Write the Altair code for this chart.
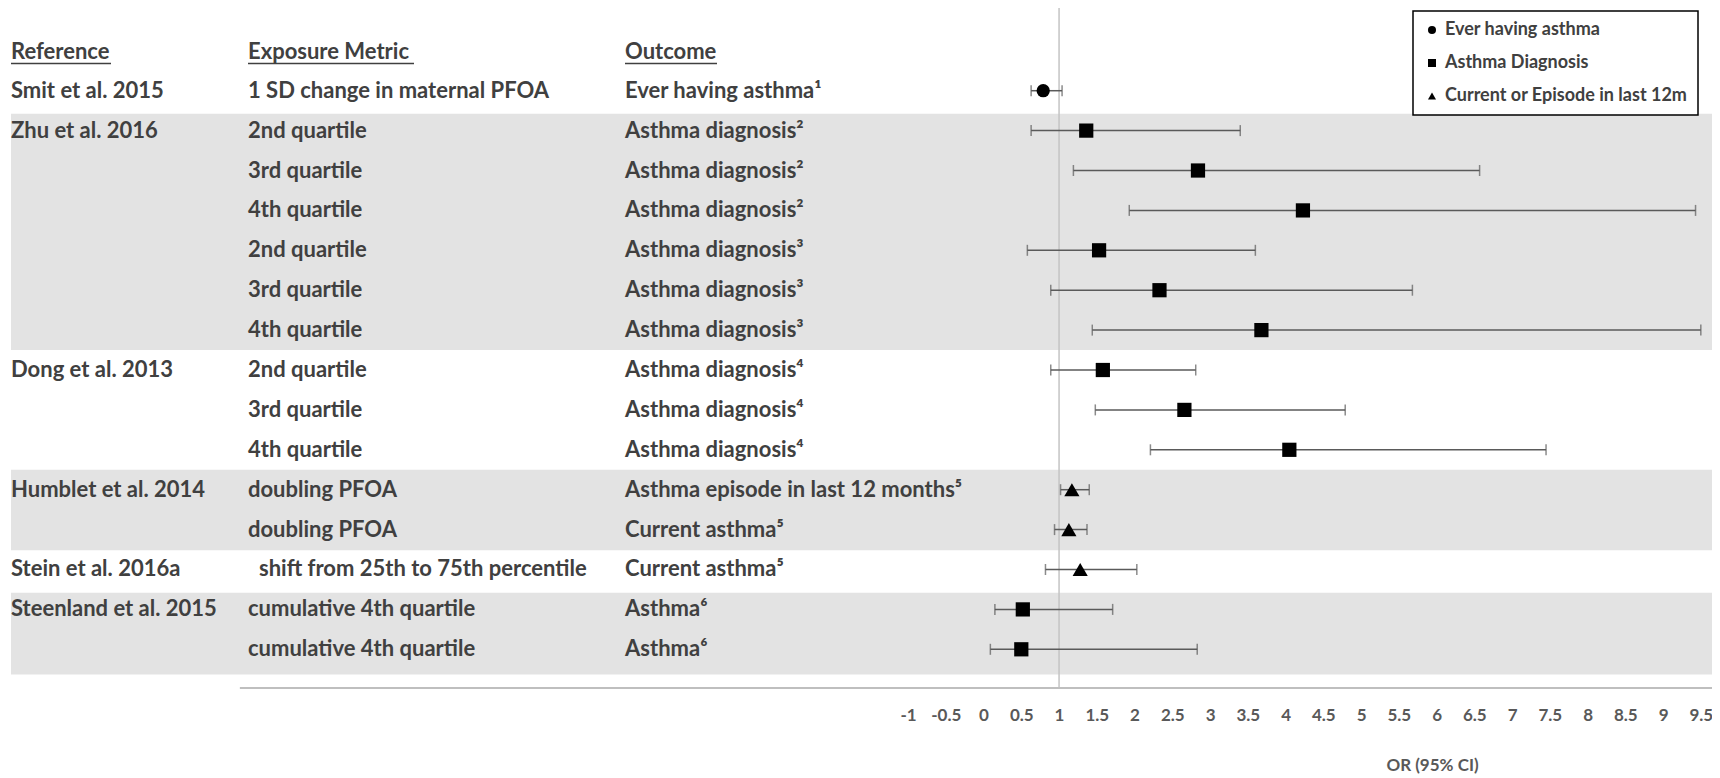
import altair as alt
import pandas as pd

# ---------------- data ----------------
references = ["Smit et al. 2015", "Zhu et al. 2016", "", "", "", "", "",
              "Dong et al. 2013", "", "", "Humblet et al. 2014", "",
              "Stein et al. 2016a", "Steenland et al. 2015", ""]
exposures = ["1 SD change in maternal PFOA", "2nd quartile", "3rd quartile", "4th quartile",
             "2nd quartile", "3rd quartile", "4th quartile",
             "2nd quartile", "3rd quartile", "4th quartile",
             "doubling PFOA", "doubling PFOA",
             "\u200b\u2002shift from 25th to 75th percentile",
             "cumulative 4th quartile", "cumulative 4th quartile"]
outcomes = ["Ever having asthma\u00b9",
            "Asthma diagnosis\u00b2", "Asthma diagnosis\u00b2", "Asthma diagnosis\u00b2",
            "Asthma diagnosis\u00b3", "Asthma diagnosis\u00b3", "Asthma diagnosis\u00b3",
            "Asthma diagnosis\u2074", "Asthma diagnosis\u2074", "Asthma diagnosis\u2074",
            "Asthma episode in last 12 months\u2075", "Current asthma\u2075", "Current asthma\u2075",
            "Asthma\u2076", "Asthma\u2076"]
outcome_types = ["Ever having asthma"] + ["Asthma Diagnosis"] * 9 + \
                ["Current or Episode in last 12m"] * 3 + ["Asthma Diagnosis"] * 2
odds_ratio = [0.79, 1.36, 2.84, 4.23, 1.53, 2.33, 3.68, 1.58, 2.66, 4.05, 1.17, 1.13, 1.28, 0.52, 0.50]
ci_low = [0.63, 0.63, 1.19, 1.93, 0.58, 0.89, 1.44, 0.89, 1.48, 2.21, 1.02, 0.94, 0.82, 0.15, 0.09]
ci_high = [1.04, 3.40, 6.57, 9.43, 3.60, 5.68, 9.50, 2.81, 4.79, 7.45, 1.40, 1.37, 2.03, 1.71, 2.83]
headers = ["Reference", "Exposure Metric", "Outcome"]
band_start = [0.58, 9.5, 12.58]
band_end = [6.5, 11.52, 14.63]
tick_values = [-1, -0.5, 0, 0.5, 1, 1.5, 2, 2.5, 3, 3.5, 4, 4.5, 5, 5.5, 6, 6.5, 7, 7.5, 8, 8.5, 9, 9.5]
type_domain = ["Ever having asthma", "Asthma Diagnosis", "Current or Episode in last 12m"]
null_value = 1

rows = list(range(len(references)))
df = pd.DataFrame({"row": rows, "ref": references, "exp": exposures, "out": outcomes,
                   "type": outcome_types, "msize": outcome_types,
                   "or": odds_ratio, "lo": ci_low, "hi": ci_high})
bands = pd.DataFrame({"y0": band_start, "y1": band_end})

# ---------------- layout / style ----------------
W, H = 1704, 680
X_DOM = [-12.921, 9.648]
Y_DOM = [-2.073, 14.97]
HEADER_ROW = -0.98
FONT = "Lato"
TXT = "#404040"
FS = 22

xs = alt.Scale(domain=X_DOM, nice=False, zero=False)
ys = alt.Scale(domain=Y_DOM, nice=False, zero=False, reverse=True)
xaxis = alt.Axis(values=tick_values, labelExpr="'' + datum.value", domain=False,
                 ticks=False, grid=False, labelPadding=19, labelFlush=False,
                 labelOverlap=False, labelFont=FONT, labelFontSize=17,
                 labelFontWeight="bold", labelColor="#595959",
                 title="OR (95% CI)", titleFont=FONT, titleFontSize=17,
                 titleFontWeight="bold", titleColor="#595959",
                 titleX=1424, titlePadding=34)

base = alt.Chart(df)

band_layer = alt.Chart(bands).mark_rect(color="#e3e3e3").encode(
    x=alt.value(3), x2=alt.value(W),
    y=alt.Y("y0:Q", scale=ys, axis=None), y2="y1:Q")

vline = alt.Chart(pd.DataFrame({"x": [null_value], "y0": [Y_DOM[0]], "y1": [Y_DOM[1]]})).mark_rule(
    color="#c4c4c4", strokeWidth=1.5).encode(
    x=alt.X("x:Q", scale=xs, axis=xaxis), y=alt.Y("y0:Q", scale=ys, axis=None), y2="y1:Q")

axis_line = alt.Chart(pd.DataFrame({"x0": [-9.85], "x1": [X_DOM[1]], "y": [Y_DOM[1]]})).mark_rule(
    color="#bfbfbf", strokeWidth=2).encode(
    x=alt.X("x0:Q", scale=xs, axis=xaxis), x2="x1:Q", y=alt.Y("y:Q", scale=ys, axis=None))

whisker = base.mark_rule(color="#5a5a5a", strokeWidth=1.5).encode(
    x=alt.X("lo:Q", scale=xs, axis=xaxis), x2="hi:Q", y=alt.Y("row:Q", scale=ys, axis=None))
cap_lo = base.mark_tick(orient="vertical", color="#5a5a5a", thickness=1.5, size=11).encode(
    x=alt.X("lo:Q", scale=xs, axis=xaxis), y=alt.Y("row:Q", scale=ys, axis=None))
cap_hi = base.mark_tick(orient="vertical", color="#5a5a5a", thickness=1.5, size=11).encode(
    x=alt.X("hi:Q", scale=xs, axis=xaxis), y=alt.Y("row:Q", scale=ys, axis=None))

points = base.mark_point(filled=True, color="black", opacity=1).encode(
    x=alt.X("or:Q", scale=xs, axis=xaxis),
    y=alt.Y("row:Q", scale=ys, axis=None),
    shape=alt.Shape("type:N",
                    scale=alt.Scale(domain=type_domain, range=["circle", "square", "triangle-up"]),
                    legend=alt.Legend(title=None, orient="none", legendX=1405, legendY=3,
                                      fillColor="white", strokeColor="black", padding=10,
                                      rowPadding=15, symbolSize=65, symbolFillColor="black",
                                      symbolStrokeColor="black", labelFont=FONT,
                                      labelFontSize=18, labelFontWeight="bold",
                                      labelColor=TXT, labelOffset=4, labelLimit=400)),
    size=alt.Size("msize:N",
                  scale=alt.Scale(domain=type_domain[::-1], range=[230, 175, 110]),
                  legend=None))


def text_col(field, px):
    return base.mark_text(align="left", baseline="middle", font=FONT, fontSize=FS,
                          fontWeight="bold", color=TXT).encode(
        x=alt.value(px), y=alt.Y("row:Q", scale=ys, axis=None), text=f"{field}:N")


col_x = [3, 240, 617]
head_w = [100, 166, 92]
header_layers = []
for i, h in enumerate(headers):
    one = alt.Chart(pd.DataFrame({"h": [h], "y": [HEADER_ROW], "u": [HEADER_ROW + 0.3]}))
    header_layers.append(one.mark_text(align="left", baseline="middle", font=FONT, fontSize=FS,
                                       fontWeight="bold", color=TXT).encode(
        x=alt.value(col_x[i]), y=alt.Y("y:Q", scale=ys, axis=None), text="h:N"))
    header_layers.append(one.mark_rule(color=TXT, strokeWidth=1.5).encode(
        x=alt.value(col_x[i]), x2=alt.value(col_x[i] + head_w[i]),
        y=alt.Y("u:Q", scale=ys, axis=None)))

chart = alt.layer(
    band_layer, vline, axis_line, whisker, cap_lo, cap_hi, points,
    text_col("ref", col_x[0]), text_col("exp", col_x[1]), text_col("out", col_x[2]),
    *header_layers
).properties(
    width=W, height=H,
    autosize=alt.AutoSizeParams(type="none"),
    padding={"left": 0, "top": 0, "right": 0, "bottom": 86},
).configure_view(stroke=None).configure_legend(strokeWidth=1.5)

chart.save("out.html", embed_options={"renderer": "svg", "actions": False})
